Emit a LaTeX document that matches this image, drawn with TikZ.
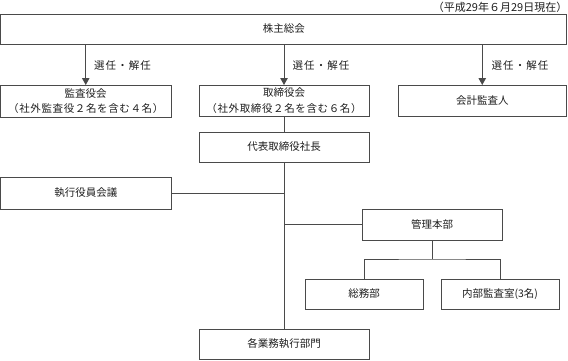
\documentclass[tikz,border=0pt]{standalone}
\usepackage{fontspec}
\setmainfont{Noto Sans CJK JP}
\usetikzlibrary{arrows.meta}
\definecolor{linec}{HTML}{4A4A4A}
\definecolor{textc}{HTML}{1E1E1E}
\tikzset{
  box/.style={draw=linec, line width=1pt, rectangle, inner sep=0pt, outer sep=0pt,
    align=center, text=textc, font=\fontsize{10.5}{15.5}\selectfont},
  conn/.style={draw=linec, line width=1pt},
  arr/.style={conn, -{Triangle[width=7.5pt,length=7pt]}},
  lbl/.style={text=textc, inner sep=0pt, font=\fontsize{10.5}{12}\selectfont\addfontfeature{LetterSpace=10}},
}
\newcommand{\spaced}[1]{{\addfontfeature{LetterSpace=6}#1}}
\begin{document}
\begin{tikzpicture}[x=1pt,y=-1pt]
\useasboundingbox (0,0) rectangle (568,360);
% boxes
\node[box, minimum width=566pt, minimum height=30pt] (sokai) at (283.75,29) {株主総会};
\node[box, minimum width=170.5pt, minimum height=32pt] (kansa) at (85.75,101) {監査役会\\\spaced{（社外監査役２名を含む４名）}};
\node[box, minimum width=170pt, minimum height=31pt] (tori) at (284,100.5) {取締役会\\\spaced{（社外取締役２名を含む６名）}};
\node[box, minimum width=168.5pt, minimum height=31pt] (kaikei) at (482.25,100.5) {会計監査人};
\node[box, minimum width=170pt, minimum height=30pt] (shacho) at (284,147) {代表取締役社長};
\node[box, minimum width=170.5pt, minimum height=32pt] (shikkou) at (85.75,193) {執行役員会議};
\node[box, minimum width=140pt, minimum height=31pt] (kanri) at (432,224.5) {管理本部};
\node[box, minimum width=118pt, minimum height=30pt] (somu) at (364,294) {総務部};
\node[box, minimum width=118pt, minimum height=30pt] (naibu) at (500,294) {内部監査室(3名)};
\node[box, minimum width=170pt, minimum height=30pt] (kakugyo) at (284,344) {各業務執行部門};
% date
\node[anchor=east, inner sep=0pt, text=textc, font=\fontsize{11}{12}\selectfont] (date) at (567.5,7) {（平成29年６月29日現在）};
% arrows from shareholders meeting
\draw[arr] (sokai.south -| kansa.north) -- (kansa.north);
\draw[arr] (sokai.south -| tori.north) -- (tori.north);
\draw[arr] (sokai.south -| kaikei.north) -- (kaikei.north);
\node[lbl, anchor=west] (l1) at (94,66) {選任・解任};
\node[lbl, anchor=west] (l2) at (292.5,66) {選任・解任};
\node[lbl, anchor=west] (l3) at (491.5,66) {選任・解任};
% trunk
\draw[conn] (tori.south) -- (shacho.north);
\draw[conn] (shacho.south) -- (kakugyo.north);
\draw[conn] (shikkou.east) -- (shikkou.east -| shacho.south);
\draw[conn] (kanri.west) -- (kanri.west -| shacho.south);
% management branch
\coordinate (bus) at (432,259);
\draw[conn] (kanri.south) -- (bus);
\draw[conn] (somu.north) |- (bus) -| (naibu.north);
\end{tikzpicture}
\end{document}
